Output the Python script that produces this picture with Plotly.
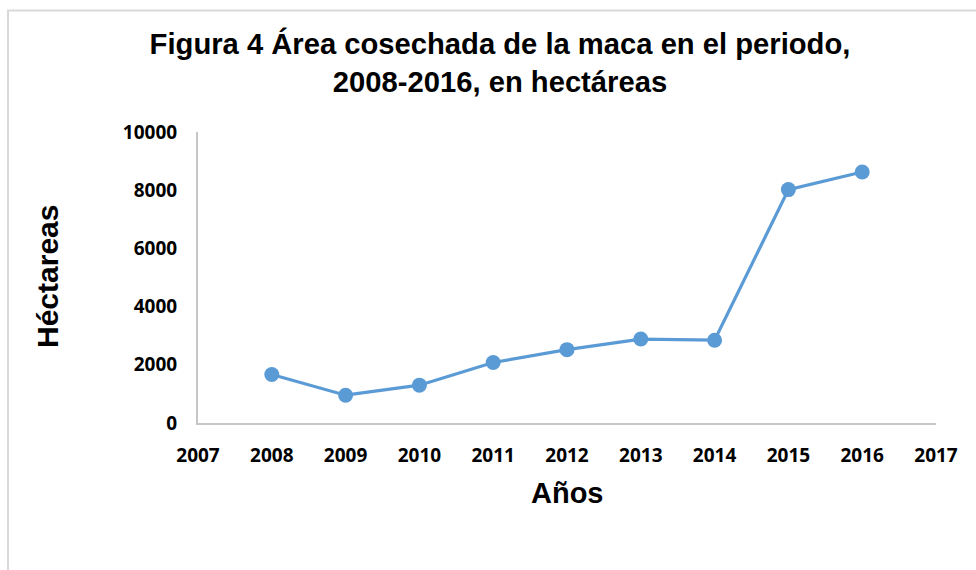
import plotly.graph_objects as go

years = [2008, 2009, 2010, 2011, 2012, 2013, 2014, 2015, 2016]
hectareas = [1665, 955, 1300, 2080, 2520, 2885, 2845, 8020, 8625]
x_ticks = list(range(2007, 2018))
y_ticks = [0, 2000, 4000, 6000, 8000, 10000]

title_text = "Figura 4 Área cosechada de la maca en el periodo,<br>2008-2016, en hectáreas"
x_title = "Años"
y_title = "Héctareas"

W, H = 976, 570
ML, MR, MT, MB = 198, 40, 132, 147
PW, PH = W - ML - MR, H - MT - MB

fig = go.Figure()
fig.add_trace(go.Scatter(
    x=years, y=hectareas, mode="lines+markers",
    line=dict(color="#5b9bd5", width=3.2),
    marker=dict(color="#5b9bd5", size=15),
    showlegend=False, hoverinfo="x+y",
))

tick_font = dict(family="Open Sans", size=19, color="#000000", weight="bold")
label_font = dict(family="Liberation Sans, Arial", size=29, color="#000000")

fig.update_layout(
    width=W, height=H,
    margin=dict(l=ML, r=MR, t=MT, b=MB, pad=0),
    paper_bgcolor="white", plot_bgcolor="white",
    title=dict(text="<b>" + title_text + "</b>",
               font=dict(family="Liberation Sans, Arial", size=29.2, color="#000000"),
               x=500 / W, xanchor="center", xref="container",
               y=1 - 54 / H, yanchor="top", yref="container"),
    xaxis=dict(range=[2007, 2017], tickvals=x_ticks, ticktext=[str(v) for v in x_ticks],
               showgrid=False, zeroline=False, showline=True, linecolor="#c6c6c6", linewidth=2,
               ticks="outside", ticklen=14, tickcolor="rgba(0,0,0,0)",
               tickfont=tick_font),
    yaxis=dict(range=[0, 10000], tickvals=y_ticks, ticktext=[str(v) for v in y_ticks],
               showgrid=False, zeroline=False, showline=True, linecolor="#c6c6c6", linewidth=2,
               ticks="outside", ticklen=15, tickcolor="rgba(0,0,0,0)",
               tickfont=tick_font),
    annotations=[
        dict(text="<b>" + x_title + "</b>", xref="paper", yref="paper",
             x=0.5, y=(423 - 493) / PH, xanchor="center", yanchor="middle", showarrow=False,
             font=label_font),
        dict(text="<b>" + y_title + "</b>", xref="paper", yref="paper", textangle=-90,
             x=(47 - ML) / PW, y=(423 - 277) / PH, xanchor="center", yanchor="middle", showarrow=False,
             font=dict(family="Liberation Sans, Arial", size=30, color="#000000")),
    ],
    shapes=[dict(type="rect", xref="paper", yref="paper",
                 x0=(8 - ML) / PW, x1=(990 - ML) / PW,
                 y0=(423 - 590) / PH, y1=(423 - 10.5) / PH,
                 line=dict(color="#d9d9d9", width=2), fillcolor="rgba(0,0,0,0)", layer="below")],
)

fig.write_html("out.html", config={"displayModeBar": False},
               post_script="document.body.style.margin='0px';document.body.style.overflow='hidden';")
